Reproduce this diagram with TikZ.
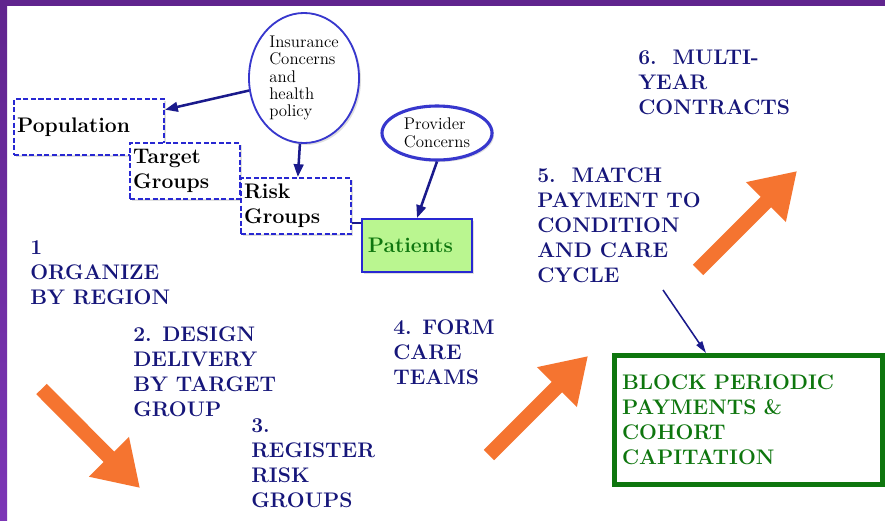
\documentclass[tikz,border=0pt]{standalone}
\usepackage{tikz}
\usetikzlibrary{positioning, arrows.meta, shapes.geometric, shadows, calc}

\definecolor{navytext}{RGB}{22,22,122}
\definecolor{navyline}{RGB}{26,26,140}
\definecolor{boxblue}{RGB}{40,40,210}
\definecolor{ellblue}{RGB}{55,55,205}
\definecolor{leafgreen}{RGB}{14,118,14}
\definecolor{patfill}{RGB}{186,246,144}
\definecolor{arroworange}{RGB}{245,116,48}
\definecolor{framepurple}{RGB}{96,36,142}
\definecolor{framelight}{RGB}{124,54,182}

\begin{document}
\begin{tikzpicture}
    [
        x=0.025cm, y=-0.025cm, on grid,
        soft_shadow/.style={drop shadow={opacity=0.25, shadow xshift=0.05cm, shadow yshift=-0.05cm}},
        dash_box/.style={rectangle, draw=boxblue, fill=white, line width=1.4pt, dash pattern=on 3.6pt off 1.8pt, minimum height=1.4cm, inner xsep=0.08cm, text width=2.59cm, align=left, soft_shadow, font=\fontsize{15}{17.8}\selectfont\bfseries},
        blue_ellipse/.style={ellipse, draw=ellblue, fill=white, line width=1.3pt, inner sep=0pt, align=left, minimum width=2.75cm, soft_shadow, font=\fontsize{12}{12.4}\selectfont},
        green_box/.style={rectangle, draw=boxblue, fill=patfill, line width=1.4pt, minimum height=1.325cm, inner xsep=0.15cm, text width=2.45cm, align=left, soft_shadow, text=leafgreen, font=\fontsize{15}{17.8}\selectfont\bfseries},
        block_box/.style={rectangle, draw=leafgreen, fill=white, line width=3.5pt, minimum height=3.225cm, inner xsep=0.19cm, text width=6.32cm, align=left, soft_shadow, text=leafgreen, font=\fontsize{15}{17.8}\selectfont\bfseries},
        navy_label/.style={anchor=north west, inner sep=0pt, align=left, text=navytext, font=\fontsize{15}{17.8}\selectfont\bfseries},
        navy_arrow/.style={draw=navyline, line width=1.8pt, -{Triangle[length=0.32cm, width=0.24cm]}},
        thin_arrow/.style={draw=navyline, line width=1.1pt, -{Triangle[length=0.3cm, width=0.17cm]}},
        orange_arrow/.style={draw=arroworange, line width=0.37cm, -{Triangle[length=1.1cm, width=1.33cm]}},
    ]
        \useasboundingbox (0,0) rectangle (885,520) ;
        \fill[white] (0,0) rectangle (885,520) ;
        \fill[framepurple] (0,0) rectangle (885,6) ;
        \shade[top color=framepurple, bottom color=framelight] (0,0) rectangle (7,520) ;

        % concerns
        \node[blue_ellipse, minimum height=3.25cm] (ins) at (304,78) {Insurance\\Concerns\\and\\health\\policy} ;
        \node[blue_ellipse, minimum height=1.35cm, line width=2.2pt] (prov) at (437,133) {Provider\\Concerns} ;

        % staircase of groups
        \node[dash_box, text width=3.59cm] (pop) at (89,127) {Population} ;
        \node[dash_box] (tgt) [below right = 1.1cm and 2.4cm of pop] {Target\\Groups} ;
        \node[dash_box] (risk) [below right = 0.875cm and 2.775cm of tgt] {Risk\\Groups} ;
        \node[green_box] (pat) at (417,245.5) {Patients} ;
        \node[block_box] (block) at (748.5,420) {BLOCK PERIODIC\\PAYMENTS \&\\COHORT\\CAPITATION} ;

        % steps
        \node[navy_label] (organize) at (30,240) {1\\ORGANIZE\\BY REGION} ;
        \node[navy_label] (design) at (133,326) {2. DESIGN\\DELIVERY\\BY TARGET\\GROUP} ;
        \node[navy_label] (register) at (251,418) {3.\\REGISTER\\RISK\\GROUPS} ;
        \node[navy_label] (form) at (393,319) {4. FORM\\CARE\\TEAMS} ;
        \node[navy_label] (match) at (537,167) {5.\ \ MATCH\\PAYMENT TO\\CONDITION\\AND CARE\\CYCLE} ;
        \node[navy_label] (multi) at (638,50) {6.\ \ MULTI-\\YEAR\\CONTRACTS} ;
        \coordinate (cycle_end) at (663,290) ;

        \draw[navy_arrow] (ins) -- (pop) ;
        \draw[navy_arrow] (ins) -- (risk) ;
        \draw[navy_arrow] (prov.south) -- (pat.north) ;
        \draw[draw=navyline, line width=1.8pt] (risk.-17) -- (risk.-17 -| pat.west) ;
        \draw[thin_arrow] (cycle_end) -- ($(block.north west)+(94,0)$) ;

        \draw[orange_arrow] (41.5,389) -- (140,488) ;
        \draw[orange_arrow] (489,455) -- (588,356) ;
        \draw[orange_arrow] (698,270) -- (797,171) ;
    \end{tikzpicture}
\end{document}
